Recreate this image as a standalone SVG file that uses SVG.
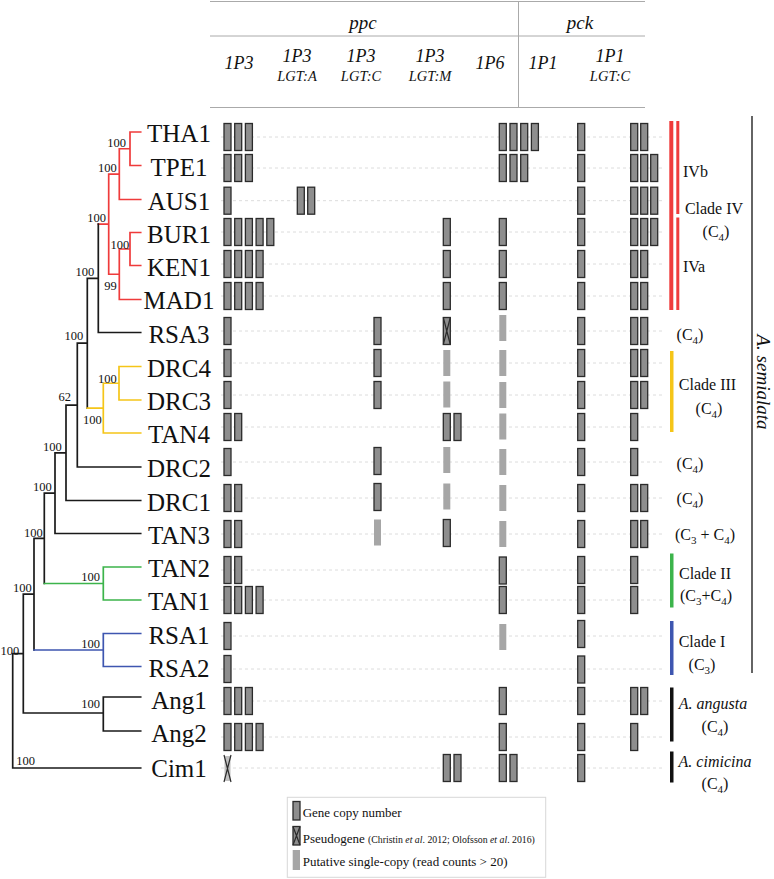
<svg xmlns="http://www.w3.org/2000/svg" width="774" height="879" viewBox="0 0 774 879">
<style>
text{font-family:"Liberation Serif","Times New Roman",serif;fill:#111}
.it{font-style:italic}
.hdr{stroke:#aaa;stroke-width:1;fill:none}
.row{stroke:#dcdcdc;stroke-width:1;stroke-dasharray:3,3;fill:none}
.b{fill:#8e8e8e;stroke:#2b2b2b;stroke-width:1.3}
.g{fill:#a6a6a6;stroke:none}
.x{stroke:#2b2b2b;stroke-width:1.2;fill:none}
.tree{fill:none;stroke-width:1.7;stroke-linecap:square}
.k{stroke:#1a1a1a}.r{stroke:#ef3b3b}.y{stroke:#f5c518}.gr{stroke:#3cb44b}.bl{stroke:#3e56b0}
.tx{font-size:25px;text-anchor:middle}
.s{font-size:12.5px;text-anchor:end}
.cl{font-size:16px}
.col{font-size:18px;text-anchor:middle;font-style:italic}
.sub{font-size:14.5px;text-anchor:middle;font-style:italic}
.lg{font-size:13px}
</style>

<g id="header">
<line class="hdr" x1="210" y1="1.5" x2="645" y2="1.5"/>
<line class="hdr" x1="210" y1="36" x2="645" y2="36"/>
<line class="hdr" x1="210" y1="107.5" x2="645" y2="107.5"/>
<line class="hdr" x1="518.5" y1="1.5" x2="518.5" y2="107.5"/>
<text x="363" y="29" font-size="19" class="it" text-anchor="middle">ppc</text>
<text x="580" y="29" font-size="19" class="it" text-anchor="middle">pck</text>
<text class="col" x="239" y="68.5">1P3</text>
<text class="col" x="297" y="61.5">1P3</text><text class="sub" x="297" y="80.5">LGT:A</text>
<text class="col" x="361" y="61.5">1P3</text><text class="sub" x="361" y="80.5">LGT:C</text>
<text class="col" x="430" y="61.5">1P3</text><text class="sub" x="430" y="80.5">LGT:M</text>
<text class="col" x="490" y="68.5">1P6</text>
<text class="col" x="543" y="68.5">1P1</text>
<text class="col" x="610" y="61.5">1P1</text><text class="sub" x="610" y="80.5">LGT:C</text>
</g>

<g id="rowlines">
<line class="row" x1="221" y1="137" x2="665" y2="137"/>
<line class="row" x1="221" y1="168" x2="665" y2="168"/>
<line class="row" x1="221" y1="200.7" x2="665" y2="200.7"/>
<line class="row" x1="221" y1="232" x2="665" y2="232"/>
<line class="row" x1="221" y1="264" x2="665" y2="264"/>
<line class="row" x1="221" y1="296" x2="665" y2="296"/>
<line class="row" x1="221" y1="331" x2="665" y2="331"/>
<line class="row" x1="221" y1="363" x2="665" y2="363"/>
<line class="row" x1="221" y1="395" x2="665" y2="395"/>
<line class="row" x1="221" y1="427" x2="665" y2="427"/>
<line class="row" x1="221" y1="462" x2="665" y2="462"/>
<line class="row" x1="221" y1="498" x2="665" y2="498"/>
<line class="row" x1="221" y1="534" x2="665" y2="534"/>
<line class="row" x1="221" y1="570" x2="665" y2="570"/>
<line class="row" x1="221" y1="600" x2="665" y2="600"/>
<line class="row" x1="221" y1="636" x2="665" y2="636"/>
<line class="row" x1="221" y1="669" x2="665" y2="669"/>
<line class="row" x1="221" y1="701" x2="665" y2="701"/>
<line class="row" x1="221" y1="737" x2="665" y2="737"/>
<line class="row" x1="221" y1="768" x2="665" y2="768"/>
</g>

<g id="connectors">
<path class="tree r" d="M140.7,132H130V165.5H140.7M130,148.75H119.3V199.5H140.7M119.3,174.1H108.7V274.25H119.3M140.7,232.5H130V265.5H140.7M130,249H119.3V299.5H140.7M108.7,224.2H98.3"/>
<path class="tree k" d="M98.3,224.2V332.5H140.7M98.3,278.35H87.3V408.1M87.3,343.2H77.3V467H140.7M77.3,405.1H66V500.5H140.7M66,452.8H55V533.5H140.7M55,493.15H44.3V583.5M44.3,538.3H34V650M34,594.15H23.3V713M23.3,653.6H12.7V768H140.7M140.7,697H103.3V731H140.7M103.3,713H23.3"/>
<path class="tree y" d="M140.7,366.5H119V400H140.7M119,383.25H103.3V433H140.7M103.3,408.1H87.3"/>
<path class="tree gr" d="M140.7,567H103.3V600H140.7M103.3,583.5H44.3"/>
<path class="tree bl" d="M140.7,633.5H103.3V666.5H140.7M103.3,650H34"/>
</g>

<g id="supports">
<text class="s" x="126" y="147">100</text>
<text class="s" x="116.7" y="171.7">100</text>
<text class="s" x="106" y="221.7">100</text>
<text class="s" x="129.3" y="249.3">100</text>
<text class="s" x="116.7" y="290">99</text>
<text class="s" x="94.3" y="275.7">100</text>
<text class="s" x="83.3" y="340">100</text>
<text class="s" x="116.7" y="382.7">100</text>
<text class="s" x="101.7" y="424">100</text>
<text class="s" x="71" y="400.7">62</text>
<text class="s" x="61.7" y="450.7">100</text>
<text class="s" x="51.7" y="490.7">100</text>
<text class="s" x="42.7" y="536.7">100</text>
<text class="s" x="100" y="580.7">100</text>
<text class="s" x="31.7" y="591.7">100</text>
<text class="s" x="100" y="648">100</text>
<text class="s" x="100" y="708">100</text>
<text class="s" x="19.3" y="655">100</text>
<text class="s" x="35" y="765">100</text>
</g>

<g id="THA1"><text class="tx" x="179" y="142">THA1</text>
<rect class="b" x="224" y="123.5" width="7" height="27"/><rect class="b" x="234.7" y="123.5" width="7" height="27"/><rect class="b" x="245.4" y="123.5" width="7" height="27"/>
<rect class="b" x="499.3" y="123.5" width="7" height="27"/><rect class="b" x="510" y="123.5" width="7" height="27"/><rect class="b" x="520.7" y="123.5" width="7" height="27"/><rect class="b" x="531.4" y="123.5" width="7" height="27"/>
<rect class="b" x="577.7" y="123.5" width="7" height="27"/>
<rect class="b" x="630.7" y="123.5" width="7" height="27"/><rect class="b" x="640.7" y="123.5" width="7" height="27"/></g>

<g id="TPE1"><text class="tx" x="179" y="175.5">TPE1</text>
<rect class="b" x="224" y="154.5" width="7" height="27"/><rect class="b" x="234.7" y="154.5" width="7" height="27"/><rect class="b" x="245.4" y="154.5" width="7" height="27"/>
<rect class="b" x="499.3" y="154.5" width="7" height="27"/><rect class="b" x="510" y="154.5" width="7" height="27"/><rect class="b" x="520.7" y="154.5" width="7" height="27"/>
<rect class="b" x="577.7" y="154.5" width="7" height="27"/>
<rect class="b" x="630.7" y="154.5" width="7" height="27"/><rect class="b" x="640.7" y="154.5" width="7" height="27"/><rect class="b" x="650.7" y="154.5" width="7" height="27"/></g>

<g id="AUS1"><text class="tx" x="179" y="209.5">AUS1</text>
<rect class="b" x="224" y="187.2" width="7" height="27"/>
<rect class="b" x="297.3" y="187.2" width="7" height="27"/><rect class="b" x="307.7" y="187.2" width="7" height="27"/>
<rect class="b" x="577.7" y="187.2" width="7" height="27"/>
<rect class="b" x="630.7" y="187.2" width="7" height="27"/><rect class="b" x="640.7" y="187.2" width="7" height="27"/><rect class="b" x="650.7" y="187.2" width="7" height="27"/></g>

<g id="BUR1"><text class="tx" x="179" y="242.5">BUR1</text>
<rect class="b" x="224" y="218.5" width="7" height="27"/><rect class="b" x="234.7" y="218.5" width="7" height="27"/><rect class="b" x="245.4" y="218.5" width="7" height="27"/><rect class="b" x="256.1" y="218.5" width="7" height="27"/><rect class="b" x="266.8" y="218.5" width="7" height="27"/>
<rect class="b" x="443.3" y="218.5" width="7" height="27"/>
<rect class="b" x="499.3" y="218.5" width="7" height="27"/>
<rect class="b" x="577.7" y="218.5" width="7" height="27"/>
<rect class="b" x="630.7" y="218.5" width="7" height="27"/><rect class="b" x="640.7" y="218.5" width="7" height="27"/><rect class="b" x="650.7" y="218.5" width="7" height="27"/></g>

<g id="KEN1"><text class="tx" x="179" y="275.5">KEN1</text>
<rect class="b" x="224" y="250.5" width="7" height="27"/><rect class="b" x="234.7" y="250.5" width="7" height="27"/><rect class="b" x="245.4" y="250.5" width="7" height="27"/><rect class="b" x="256.1" y="250.5" width="7" height="27"/>
<rect class="b" x="443.3" y="250.5" width="7" height="27"/>
<rect class="b" x="499.3" y="250.5" width="7" height="27"/>
<rect class="b" x="577.7" y="250.5" width="7" height="27"/>
<rect class="b" x="630.7" y="250.5" width="7" height="27"/><rect class="b" x="640.7" y="250.5" width="7" height="27"/></g>

<g id="MAD1"><text class="tx" x="179" y="309">MAD1</text>
<rect class="b" x="224" y="282.5" width="7" height="27"/><rect class="b" x="234.7" y="282.5" width="7" height="27"/><rect class="b" x="245.4" y="282.5" width="7" height="27"/><rect class="b" x="256.1" y="282.5" width="7" height="27"/>
<rect class="b" x="443.3" y="282.5" width="7" height="27"/>
<rect class="b" x="499.3" y="282.5" width="7" height="27"/>
<rect class="b" x="577.7" y="282.5" width="7" height="27"/>
<rect class="b" x="630.7" y="282.5" width="7" height="27"/><rect class="b" x="640.7" y="282.5" width="7" height="27"/></g>

<g id="RSA3"><text class="tx" x="179" y="342.5">RSA3</text>
<rect class="b" x="224" y="317.5" width="7" height="27"/>
<rect class="b" x="374" y="317.5" width="7" height="27"/>
<rect class="b" x="443.3" y="317.5" width="7" height="27"/><path class="x" d="M443.3,317.5L450.3,344.5M450.3,317.5L443.3,344.5"/>
<rect class="g" x="499.3" y="315" width="7" height="26"/>
<rect class="b" x="577.7" y="317.5" width="7" height="27"/>
<rect class="b" x="630.7" y="317.5" width="7" height="27"/><rect class="b" x="640.7" y="317.5" width="7" height="27"/></g>

<g id="DRC4"><text class="tx" x="179" y="376.5">DRC4</text>
<rect class="b" x="224" y="349.5" width="7" height="27"/>
<rect class="b" x="374" y="349.5" width="7" height="27"/>
<rect class="g" x="443.3" y="350" width="7" height="26"/>
<rect class="g" x="499.3" y="350" width="7" height="26"/>
<rect class="b" x="577.7" y="349.5" width="7" height="27"/>
<rect class="b" x="630.7" y="349.5" width="7" height="27"/><rect class="b" x="640.7" y="349.5" width="7" height="27"/></g>

<g id="DRC3"><text class="tx" x="179" y="410">DRC3</text>
<rect class="b" x="224" y="381.5" width="7" height="27"/>
<rect class="b" x="374" y="381.5" width="7" height="27"/>
<rect class="g" x="443.3" y="381.5" width="7" height="26"/>
<rect class="g" x="499.3" y="382" width="7" height="26"/>
<rect class="b" x="577.7" y="381.5" width="7" height="27"/>
<rect class="b" x="630.7" y="381.5" width="7" height="27"/><rect class="b" x="640.7" y="381.5" width="7" height="27"/></g>

<g id="TAN4"><text class="tx" x="179" y="443">TAN4</text>
<rect class="b" x="224" y="413.5" width="7" height="27"/><rect class="b" x="234.7" y="413.5" width="7" height="27"/>
<rect class="b" x="443.3" y="413.5" width="7" height="27"/><rect class="b" x="454" y="413.5" width="7" height="27"/>
<rect class="g" x="499.3" y="413.5" width="7" height="26"/>
<rect class="b" x="577.7" y="413.5" width="7" height="27"/>
<rect class="b" x="630.7" y="413.5" width="7" height="27"/></g>

<g id="DRC2"><text class="tx" x="179" y="477">DRC2</text>
<rect class="b" x="224" y="448.5" width="7" height="27"/>
<rect class="b" x="374" y="447.5" width="7" height="27"/>
<rect class="g" x="443.3" y="447" width="7" height="26"/>
<rect class="g" x="499.3" y="449" width="7" height="26"/>
<rect class="b" x="577.7" y="448.5" width="7" height="27"/>
<rect class="b" x="630.7" y="448.5" width="7" height="27"/></g>

<g id="DRC1"><text class="tx" x="179" y="510.5">DRC1</text>
<rect class="b" x="224" y="484.5" width="7" height="27"/><rect class="b" x="234.7" y="484.5" width="7" height="27"/>
<rect class="b" x="374" y="483.5" width="7" height="27"/>
<rect class="g" x="443.3" y="483.5" width="7" height="26"/>
<rect class="g" x="499.3" y="485" width="7" height="26"/>
<rect class="b" x="577.7" y="484.5" width="7" height="27"/>
<rect class="b" x="630.7" y="484.5" width="7" height="27"/><rect class="b" x="640.7" y="484.5" width="7" height="27"/></g>

<g id="TAN3"><text class="tx" x="179" y="543.5">TAN3</text>
<rect class="b" x="224" y="520.5" width="7" height="27"/><rect class="b" x="234.7" y="520.5" width="7" height="27"/>
<rect class="g" x="374" y="519.5" width="7" height="26"/>
<rect class="b" x="443.3" y="519.5" width="7" height="27"/>
<rect class="g" x="499.3" y="521" width="7" height="26"/>
<rect class="b" x="577.7" y="520.5" width="7" height="27"/>
<rect class="b" x="630.7" y="520.5" width="7" height="27"/><rect class="b" x="640.7" y="520.5" width="7" height="27"/></g>

<g id="TAN2"><text class="tx" x="179" y="577">TAN2</text>
<rect class="b" x="224" y="556.5" width="7" height="27"/><rect class="b" x="234.7" y="556.5" width="7" height="27"/>
<rect class="b" x="499.3" y="557" width="7" height="27"/>
<rect class="b" x="577.7" y="556.5" width="7" height="27"/>
<rect class="b" x="630.7" y="556.5" width="7" height="27"/></g>

<g id="TAN1"><text class="tx" x="179" y="610">TAN1</text>
<rect class="b" x="224" y="586.5" width="7" height="27"/><rect class="b" x="234.7" y="586.5" width="7" height="27"/><rect class="b" x="245.4" y="586.5" width="7" height="27"/><rect class="b" x="256.1" y="586.5" width="7" height="27"/>
<rect class="b" x="499.3" y="586.5" width="7" height="27"/>
<rect class="b" x="577.7" y="586.5" width="7" height="27"/>
<rect class="b" x="630.7" y="586.5" width="7" height="27"/></g>

<g id="RSA1"><text class="tx" x="179" y="643.5">RSA1</text>
<rect class="b" x="224" y="622.5" width="7" height="27"/>
<rect class="g" x="499.3" y="624" width="7" height="26"/>
<rect class="b" x="577.7" y="620.5" width="7" height="27"/></g>

<g id="RSA2"><text class="tx" x="179" y="676.5">RSA2</text>
<rect class="b" x="224" y="655.5" width="7" height="27"/>
<rect class="b" x="577.7" y="656" width="7" height="27"/></g>

<g id="Ang1"><text class="tx" x="179" y="709">Ang1</text>
<rect class="b" x="224" y="687.5" width="7" height="27"/><rect class="b" x="234.7" y="687.5" width="7" height="27"/><rect class="b" x="245.4" y="687.5" width="7" height="27"/>
<rect class="b" x="499.3" y="687.5" width="7" height="27"/>
<rect class="b" x="577.7" y="687.5" width="7" height="27"/>
<rect class="b" x="630.7" y="687.5" width="7" height="27"/><rect class="b" x="640.7" y="687.5" width="7" height="27"/></g>

<g id="Ang2"><text class="tx" x="179" y="742">Ang2</text>
<rect class="b" x="224" y="723.5" width="7" height="27"/><rect class="b" x="234.7" y="723.5" width="7" height="27"/><rect class="b" x="245.4" y="723.5" width="7" height="27"/><rect class="b" x="256.1" y="723.5" width="7" height="27"/>
<rect class="b" x="499.3" y="723.5" width="7" height="27"/>
<rect class="b" x="577.7" y="723.5" width="7" height="27"/>
<rect class="b" x="630.7" y="723.5" width="7" height="27"/></g>

<g id="Cim1"><text class="tx" x="179" y="777">Cim1</text>
<rect class="g" x="224.5" y="756" width="6" height="25" fill-opacity="0.7"/><path class="x" d="M224,755L231,782M231,755L224,782"/>
<rect class="b" x="443.3" y="754.5" width="7" height="27"/><rect class="b" x="454" y="754.5" width="7" height="27"/>
<rect class="b" x="499.3" y="754.5" width="7" height="27"/><rect class="b" x="510" y="754.5" width="7" height="27"/>
<rect class="b" x="577.7" y="754.5" width="7" height="27"/></g>

<g id="cladeIV">
<rect x="669.3" y="121" width="4" height="189" fill="#ef3b3b"/>
<rect x="676.3" y="121" width="3" height="93" fill="#ef3b3b"/>
<rect x="676.3" y="217.5" width="3" height="92.5" fill="#ef3b3b"/>
<text class="cl" x="683" y="176.5" font-size="15">IVb</text>
<text class="cl" x="683" y="271.5" font-size="15">IVa</text>
<text class="cl" x="714" y="213.5" text-anchor="middle">Clade IV</text>
<text class="cl" x="716" y="236.5" text-anchor="middle">(C<tspan font-size="11" dy="4">4</tspan><tspan dy="-4">)</tspan></text>
</g>
<g id="RSA3label"><text class="cl" x="690" y="340" text-anchor="middle">(C<tspan font-size="11" dy="4">4</tspan><tspan dy="-4">)</tspan></text></g>
<g id="cladeIII">
<rect x="670" y="351" width="3.5" height="81" fill="#f5c518"/>
<text class="cl" x="707.5" y="390" text-anchor="middle">Clade III</text>
<text class="cl" x="709" y="413.5" text-anchor="middle">(C<tspan font-size="11" dy="4">4</tspan><tspan dy="-4">)</tspan></text>
</g>
<g id="DRC2label"><text class="cl" x="690" y="468.5" text-anchor="middle">(C<tspan font-size="11" dy="4">4</tspan><tspan dy="-4">)</tspan></text></g>
<g id="DRC1label"><text class="cl" x="690" y="504" text-anchor="middle">(C<tspan font-size="11" dy="4">4</tspan><tspan dy="-4">)</tspan></text></g>
<g id="TAN3label"><text class="cl" x="705" y="539.5" text-anchor="middle">(C<tspan font-size="11" dy="4">3</tspan><tspan dy="-4"> + C</tspan><tspan font-size="11" dy="4">4</tspan><tspan dy="-4">)</tspan></text></g>
<g id="cladeII">
<rect x="670" y="553.5" width="3.5" height="54" fill="#3cb44b"/>
<text class="cl" x="705" y="578.5" text-anchor="middle">Clade II</text>
<text class="cl" x="706" y="600.5" text-anchor="middle">(C<tspan font-size="11" dy="4">3</tspan><tspan dy="-4">+C</tspan><tspan font-size="11" dy="4">4</tspan><tspan dy="-4">)</tspan></text>
</g>
<g id="cladeI">
<rect x="670" y="621" width="3.5" height="54" fill="#3e56b0"/>
<text class="cl" x="702" y="646.5" text-anchor="middle">Clade I</text>
<text class="cl" x="702" y="670" text-anchor="middle">(C<tspan font-size="11" dy="4">3</tspan><tspan dy="-4">)</tspan></text>
</g>
<g id="angusta">
<rect x="670" y="687.5" width="3.5" height="54" fill="#111"/>
<text class="cl it" x="713" y="708.5" text-anchor="middle">A. angusta</text>
<text class="cl" x="715" y="731.5" text-anchor="middle">(C<tspan font-size="11" dy="4">4</tspan><tspan dy="-4">)</tspan></text>
</g>
<g id="cimicina">
<rect x="670" y="751.5" width="3.5" height="31" fill="#111"/>
<text class="cl it" x="715" y="766.5" text-anchor="middle">A. cimicina</text>
<text class="cl" x="715" y="789" text-anchor="middle">(C<tspan font-size="11" dy="4">4</tspan><tspan dy="-4">)</tspan></text>
</g>
<g id="semialata">
<line x1="752" y1="116" x2="752" y2="673" stroke="#111" stroke-width="1.3"/>
<text class="it" font-size="19" transform="translate(757,382) rotate(90)" text-anchor="middle">A. semialata</text>
</g>

<g id="legend">
<rect x="287.3" y="797.3" width="258.4" height="80" fill="#fff" stroke="#d8d8d8" stroke-width="1"/>
<rect class="b" x="293" y="801.5" width="7" height="18.5"/>
<text class="lg" x="302.7" y="816.7">Gene copy number</text>
<rect class="b" x="293" y="826.5" width="7" height="18.5"/><path class="x" d="M293,826.5L300,845M300,826.5L293,845"/>
<text class="lg" x="302.7" y="842.7">Pseudogene <tspan font-size="9.8">(Christin <tspan font-style="italic">et al</tspan>. 2012; Olofsson <tspan font-style="italic">et al</tspan>. 2016)</tspan></text>
<rect class="g" x="292.7" y="850" width="7.3" height="20"/>
<text class="lg" x="302.7" y="866">Putative single-copy (read counts &gt; 20)</text>
</g>
</svg>
